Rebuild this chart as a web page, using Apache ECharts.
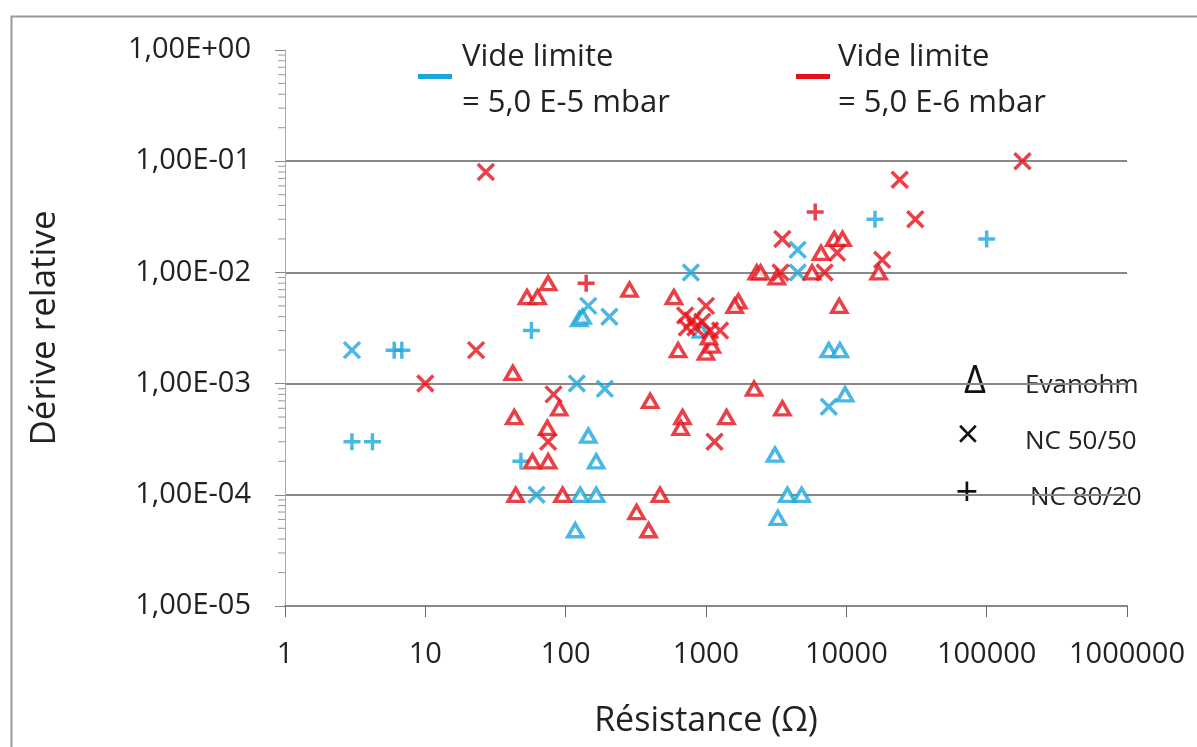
<!DOCTYPE html>
<html><head><meta charset="utf-8">
<script src="https://cdn.jsdelivr.net/npm/echarts@6/dist/echarts.min.js"></script>
<style>html,body{margin:0;padding:0;background:#fff}#c{width:1197px;height:747px}</style>
</head><body><div id="c"></div>
<script>
// Tick labels
const xTickLabels = ['1', '10', '100', '1000', '10000', '100000', '1000000'];
const yTickLabels = ['1,00E-05', '1,00E-04', '1,00E-03', '1,00E-02', '1,00E-01', '1,00E+00'];
const xAxisTitle = 'Résistance (Ω)';
const yAxisTitle = 'Dérive relative';

// Vide limite = 5,0 E-5 mbar (blue)  -- [résistance, dérive]
const blueEvanohm = [[125, 3.8e-3], [132, 4e-3], [145, 3.4e-4], [165, 2e-4], [127, 1e-4], [165, 1e-4],
  [117, 4.8e-5], [3100, 2.3e-4], [3800, 1e-4], [4800, 1e-4], [3250, 6.2e-5], [7500, 2e-3], [9000, 2e-3],
  [9800, 8e-4], [920, 3e-3]];
const blueNC5050 = [[3, 2e-3], [145, 5e-3], [205, 4e-3], [780, 1e-2], [120, 1e-3], [190, 9e-4], [62, 1e-4],
  [4500, 0.016], [4500, 0.01], [7500, 6.2e-4]];
const blueNC8020 = [[6, 2e-3], [6.8, 2e-3], [3, 3e-4], [4.2, 3e-4], [57, 3e-3], [48, 2e-4], [16000, 0.03],
  [100000, 0.02]];

// Vide limite = 5,0 E-6 mbar (red)
const redEvanohm = [[53, 6e-3], [63, 6e-3], [75, 8e-3], [285, 7e-3], [590, 6e-3], [1700, 5.5e-3], [1600, 5e-3],
  [42, 1.25e-3], [90, 6e-4], [43, 5e-4], [74, 4e-4], [58, 2e-4], [75, 2e-4], [44, 1e-4], [95, 1e-4],
  [470, 1e-4], [320, 7e-5], [390, 4.8e-5], [400, 7e-4], [680, 5e-4], [660, 4e-4], [1400, 5e-4],
  [2200, 9e-4], [3500, 6e-4], [633, 2e-3], [1000, 1.9e-3], [1100, 2.2e-3], [1050, 2.6e-3], [2300, 0.01],
  [2450, 0.01], [3200, 9e-3], [5700, 0.01], [6600, 0.015], [8200, 0.02], [9400, 0.02], [8900, 5e-3],
  [17000, 0.01]];
const redNC5050 = [[10, 1e-3], [23, 2e-3], [27, 0.08], [82, 8e-4], [75, 3e-4], [1000, 5e-3], [710, 4.1e-3],
  [800, 3.7e-3], [840, 3.2e-3], [730, 3.2e-3], [940, 3.6e-3], [1070, 3e-3], [1260, 3e-3], [1150, 3e-4],
  [3500, 0.02], [3400, 0.01], [7000, 0.01], [8600, 0.015], [24000, 0.068], [31000, 0.03], [18000, 0.013],
  [180000, 0.1]];
const redNC8020 = [[140, 8e-3], [6000, 0.035]];

// Minor tick values on the y axis (2..9 per decade)
const yMinorTicks = [];
for (let e = -5; e < 0; e++) for (let m = 2; m <= 9; m++) yMinorTicks.push(m * Math.pow(10, e));

const BLUE = '#1BA6DC';
const RED = '#E5121C';
const FONT = 'Open Sans';
const X_PATH = 'path://M0,0L10,10M10,0L0,10';
const PLUS_PATH = 'path://M5,0L5,10M0,5L10,5';

function triSeries(name, data, color) {
  return { name, type: 'scatter', data, symbol: 'triangle', symbolSize: [15, 13],
    itemStyle: { color: '#fff', borderColor: color, borderWidth: 3.5 }, z: 3 };
}
function pathSeries(name, data, color, path, size) {
  return { name, type: 'scatter', data, symbol: path, symbolSize: size,
    itemStyle: { color: 'rgba(0,0,0,0)', borderColor: color, borderWidth: 3.5 }, z: 3 };
}

const chart = echarts.init(document.getElementById('c'), null, { renderer: 'canvas' });
chart.setOption({
  backgroundColor: '#fff',
  animation: false,
  textStyle: { fontFamily: FONT },
  grid: { left: 285, right: 70, top: 50, bottom: 141 },
  xAxis: {
    type: 'log', logBase: 10, min: 1, max: 1000000,
    name: xAxisTitle, nameLocation: 'middle', nameGap: 98,
    nameTextStyle: { fontFamily: FONT, fontSize: 34, color: '#222' },
    axisLine: { show: true, lineStyle: { color: '#888', width: 2 } },
    axisTick: { show: true, length: 11, lineStyle: { color: '#666', width: 1 } },
    axisLabel: { margin: 34, fontFamily: FONT, fontSize: 29, color: '#222',
      formatter: v => xTickLabels[Math.round(Math.log10(v))] },
    splitLine: { show: false },
    minorTick: { show: false }
  },
  yAxis: {
    type: 'log', logBase: 10, min: 0.00001, max: 1, splitNumber: 5,
    name: yAxisTitle, nameLocation: 'middle', nameGap: 222, nameRotate: 90,
    nameTextStyle: { fontFamily: FONT, fontSize: 35, color: '#222' },
    axisLine: { show: true, lineStyle: { color: '#aaa', width: 1 } },
    axisTick: { show: true, length: 10, lineStyle: { color: '#888', width: 1 } },
    axisLabel: { margin: 34, fontFamily: FONT, fontSize: 29, color: '#222',
      formatter: v => yTickLabels[Math.round(Math.log10(v)) + 5] },
    splitLine: { show: true, showMinLine: false, showMaxLine: false, lineStyle: { color: '#888', width: 2 } }
  },
  series: [
    triSeries('Evanohm (5,0 E-5 mbar)', blueEvanohm, BLUE),
    pathSeries('NC 50/50 (5,0 E-5 mbar)', blueNC5050, BLUE, X_PATH, 16),
    pathSeries('NC 80/20 (5,0 E-5 mbar)', blueNC8020, BLUE, PLUS_PATH, 17),
    triSeries('Evanohm (5,0 E-6 mbar)', redEvanohm, RED),
    pathSeries('NC 50/50 (5,0 E-6 mbar)', redNC5050, RED, X_PATH, 16),
    pathSeries('NC 80/20 (5,0 E-6 mbar)', redNC8020, RED, PLUS_PATH, 17),
    {
      type: 'custom', silent: true, clip: false, z: 1,
      data: yMinorTicks.map(v => [1, v]),
      renderItem: (params, api) => {
        const p = api.coord([api.value(0), api.value(1)]);
        return { type: 'line', shape: { x1: p[0] - 7, y1: p[1], x2: p[0], y2: p[1] },
          style: { stroke: '#999', lineWidth: 1 } };
      }
    }
  ],
  graphic: [
    { type: 'rect', left: 9, top: 14, shape: { width: 1250, height: 800 },
      style: { fill: 'none', stroke: '#999', lineWidth: 2 }, silent: true, z: -1 },
    // colour legend
    { type: 'rect', shape: { x: 418, y: 74, width: 34, height: 5 }, style: { fill: BLUE } },
    { type: 'text', x: 462, y: 57, style: { text: 'Vide limite', font: '31px "Open Sans"', fill: '#222', textVerticalAlign: 'middle' } },
    { type: 'text', x: 462, y: 103, style: { text: '= 5,0 E-5 mbar', font: '31px "Open Sans"', fill: '#222', textVerticalAlign: 'middle' } },
    { type: 'rect', shape: { x: 796, y: 74, width: 34, height: 5 }, style: { fill: RED } },
    { type: 'text', x: 838, y: 57, style: { text: 'Vide limite', font: '31px "Open Sans"', fill: '#222', textVerticalAlign: 'middle' } },
    { type: 'text', x: 838, y: 103, style: { text: '= 5,0 E-6 mbar', font: '31px "Open Sans"', fill: '#222', textVerticalAlign: 'middle' } },
    // shape legend
    { type: 'text', x: 975, y: 382, style: { text: 'Δ', font: '38px "Open Sans"', fill: '#111', textAlign: 'center', textVerticalAlign: 'middle' } },
    { type: 'text', x: 1025, y: 386, style: { text: 'Evanohm', font: '26px "Open Sans"', fill: '#222', textVerticalAlign: 'middle' } },
    { type: 'text', x: 968, y: 437, style: { text: '×', font: '40px "Open Sans"', fill: '#111', textAlign: 'center', textVerticalAlign: 'middle' } },
    { type: 'text', x: 1025, y: 442, style: { text: 'NC 50/50', font: '26px "Open Sans"', fill: '#222', textVerticalAlign: 'middle' } },
    { type: 'text', x: 967, y: 495, style: { text: '+', font: '40px "Open Sans"', fill: '#111', textAlign: 'center', textVerticalAlign: 'middle' } },
    { type: 'text', x: 1030, y: 498, style: { text: 'NC 80/20', font: '26px "Open Sans"', fill: '#222', textVerticalAlign: 'middle' } }
  ]
});
</script>
</body></html>
